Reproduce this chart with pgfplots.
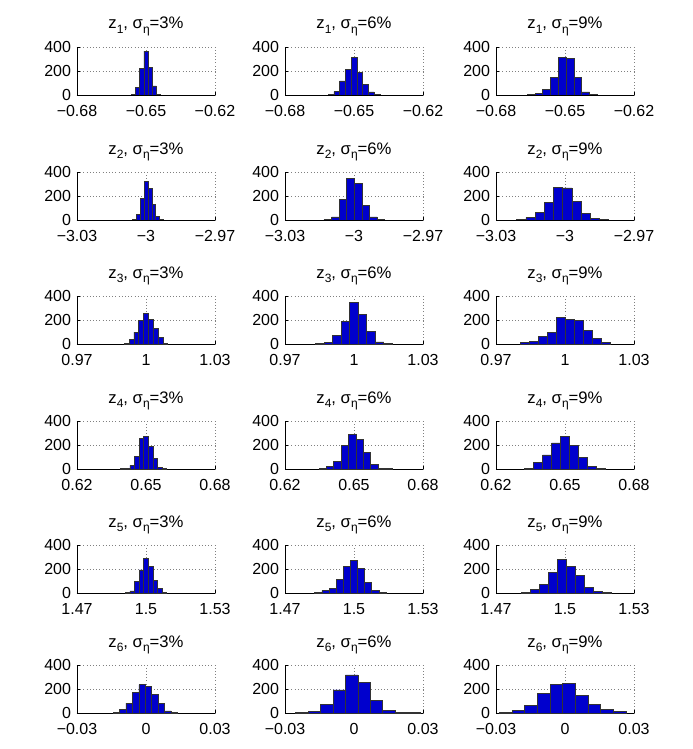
\documentclass[border=0pt]{standalone}
\usepackage{fontspec}
\setmainfont{Liberation Sans}
\usepackage{pgfplots}
\pgfplotsset{compat=1.18}
\definecolor{barblue}{RGB}{0,0,205}
\newcommand\sub[1]{\raisebox{-3.5pt}{\fontsize{9}{9}\selectfont #1}}
\pgfplotsset{
  hp/.style={
    scale only axis, width=103.5pt, height=36pt, anchor=north west,
    ymin=0, ymax=400, ytick={0,200,400}, yticklabels={0,200,400},
    scaled x ticks=false, scaled y ticks=false,
    axis lines=left, axis line style={-, black, line width=0.5pt},
    grid=major, major grid style={dotted, gray, line width=0.5pt},
    tick align=inside, major tick length=2pt, tick style={black, line width=0.4pt},
    tick label style={font=\fontsize{12}{13}\selectfont},
    xticklabel style={yshift=-4pt},
    yticklabel style={xshift=-1pt},
    title style={font=\fontsize{12.5}{14}\selectfont, at={(0.5,1)}, anchor=base, yshift=7.5pt},
    enlargelimits=false,
  },
  r1/.style={hp, xmin=-0.68, xmax=-0.62, xtick={-0.68,-0.65,-0.62}, xticklabels={−0.68,−0.65,−0.62}},
  r2/.style={hp, xmin=-3.03, xmax=-2.97, xtick={-3.03,-3,-2.97}, xticklabels={−3.03,−3,−2.97}},
  r3/.style={hp, xmin=0.97, xmax=1.03, xtick={0.97,1,1.03}, xticklabels={0.97,1,1.03}},
  r4/.style={hp, xmin=0.62, xmax=0.68, xtick={0.62,0.65,0.68}, xticklabels={0.62,0.65,0.68}},
  r5/.style={hp, xmin=1.47, xmax=1.53, xtick={1.47,1.5,1.53}, xticklabels={1.47,1.5,1.53}},
  r6/.style={hp, xmin=-0.03, xmax=0.03, xtick={-0.03,0,0.03}, xticklabels={−0.03,0,0.03}},
  hb/.style={ybar interval, fill=barblue, draw=black!80, line width=0.5pt},
}
\begin{document}
\begin{tikzpicture}
\path[use as bounding box] (0,0) rectangle (519pt,-561.75pt);

% row 1
\begin{axis}[r1, at={(57.75pt,-35.25pt)}, title={z\sub{1}, σ\sub{η}=3\%}]
\addplot[hb] coordinates {(-0.6563,5) (-0.6545,60) (-0.6527,220) (-0.6509,365) (-0.6491,230) (-0.6473,75) (-0.6455,5) (-0.6437,0)};
\end{axis}
\begin{axis}[r1, at={(213.75pt,-35.25pt)}, title={z\sub{1}, σ\sub{η}=6\%}]
\addplot[hb] coordinates {(-0.66125,3) (-0.65875,28) (-0.65625,118) (-0.65375,215) (-0.65125,315) (-0.64875,190) (-0.64625,88) (-0.64375,25) (-0.64125,4) (-0.63875,0)};
\end{axis}
\begin{axis}[r1, at={(372pt,-35.25pt)}, title={z\sub{1}, σ\sub{η}=9\%}]
\addplot[hb] coordinates {(-0.6665,2) (-0.6631,10) (-0.6597,45) (-0.6563,145) (-0.6529,315) (-0.6495,305) (-0.6461,148) (-0.6427,25) (-0.6393,5) (-0.6359,0)};
\end{axis}

% row 2
\begin{axis}[r2, at={(57.75pt,-129pt)}, title={z\sub{2}, σ\sub{η}=3\%}]
\addplot[hb] coordinates {(-3.00595,3) (-3.00425,45) (-3.00255,180) (-3.00085,320) (-2.99915,262) (-2.99745,128) (-2.99575,28) (-2.99405,3) (-2.99235,0)};
\end{axis}
\begin{axis}[r2, at={(213.75pt,-129pt)}, title={z\sub{2}, σ\sub{η}=6\%}]
\addplot[hb] coordinates {(-3.01305,3) (-3.00975,25) (-3.00645,170) (-3.00315,350) (-2.99985,303) (-2.99655,120) (-2.99325,25) (-2.98995,4) (-2.98665,0)};
\end{axis}
\begin{axis}[r2, at={(372pt,-129pt)}, title={z\sub{2}, σ\sub{η}=9\%}]
\addplot[hb] coordinates {(-3.021,5) (-3.017,20) (-3.013,60) (-3.009,150) (-3.005,275) (-3.001,268) (-2.997,155) (-2.993,55) (-2.989,15) (-2.985,2) (-2.981,0)};
\end{axis}

% row 3
\begin{axis}[r3, at={(57.75pt,-222pt)}, title={z\sub{3}, σ\sub{η}=3\%}]
\addplot[hb] coordinates {(0.99055,5) (0.99265,38) (0.99475,100) (0.99685,195) (0.99895,258) (1.00105,208) (1.00315,130) (1.00525,52) (1.00735,8) (1.00945,0)};
\end{axis}
\begin{axis}[r3, at={(213.75pt,-222pt)}, title={z\sub{3}, σ\sub{η}=6\%}]
\addplot[hb] coordinates {(0.98335,3) (0.98705,10) (0.99075,70) (0.99445,185) (0.99815,345) (1.00185,250) (1.00555,105) (1.00925,18) (1.01295,3) (1.01665,0)};
\end{axis}
\begin{axis}[r3, at={(372pt,-222pt)}, title={z\sub{3}, σ\sub{η}=9\%}]
\addplot[hb] coordinates {(0.9805,12) (0.9844,20) (0.9883,60) (0.9922,97) (0.9961,222) (1.0,208) (1.0039,200) (1.0078,111) (1.0117,50) (1.0156,15) (1.0195,0)};
\end{axis}

% row 4
\begin{axis}[r4, at={(57.75pt,-315.75pt)}, title={z\sub{4}, σ\sub{η}=3\%}]
\addplot[hb] coordinates {(0.639,3) (0.641,8) (0.643,30) (0.645,108) (0.647,258) (0.649,270) (0.651,188) (0.653,88) (0.655,15) (0.657,3) (0.659,0)};
\end{axis}
\begin{axis}[r4, at={(213.75pt,-315.75pt)}, title={z\sub{4}, σ\sub{η}=6\%}]
\addplot[hb] coordinates {(0.6348,3) (0.638,22) (0.6412,62) (0.6444,195) (0.6476,290) (0.6508,245) (0.654,137) (0.6572,38) (0.6604,6) (0.6636,3) (0.6668,0)};
\end{axis}
\begin{axis}[r4, at={(372pt,-315.75pt)}, title={z\sub{4}, σ\sub{η}=9\%}]
\addplot[hb] coordinates {(0.63245,5) (0.63635,55) (0.64025,118) (0.64415,218) (0.64805,275) (0.65195,200) (0.65585,95) (0.65975,25) (0.66365,8) (0.66755,0)};
\end{axis}

% row 5
\begin{axis}[r5, at={(57.75pt,-408.75pt)}, title={z\sub{5}, σ\sub{η}=3\%}]
\addplot[hb] coordinates {(1.491,4) (1.493,18) (1.495,100) (1.497,192) (1.499,288) (1.501,223) (1.503,108) (1.505,40) (1.507,8) (1.509,0)};
\end{axis}
\begin{axis}[r5, at={(213.75pt,-408.75pt)}, title={z\sub{5}, σ\sub{η}=6\%}]
\addplot[hb] coordinates {(1.48295,3) (1.48605,20) (1.48915,40) (1.49225,112) (1.49535,225) (1.49845,270) (1.50155,202) (1.50465,85) (1.50775,20) (1.51085,3) (1.51395,0)};
\end{axis}
\begin{axis}[r5, at={(372pt,-408.75pt)}, title={z\sub{5}, σ\sub{η}=9\%}]
\addplot[hb] coordinates {(1.481,5) (1.4849,30) (1.4888,75) (1.4927,170) (1.4966,280) (1.5005,225) (1.5044,150) (1.5083,45) (1.5122,15) (1.5161,3) (1.52,0)};
\end{axis}

% row 6
\begin{axis}[r6, at={(57.75pt,-498.75pt)}, title={z\sub{6}, σ\sub{η}=3\%}]
\addplot[hb] coordinates {(-0.0143,8) (-0.0115,28) (-0.0087,82) (-0.0059,172) (-0.0031,236) (-0.0003,222) (0.0025,155) (0.0053,82) (0.0081,18) (0.0109,5) (0.0137,0)};
\end{axis}
\begin{axis}[r6, at={(213.75pt,-498.75pt)}, title={z\sub{6}, σ\sub{η}=6\%}]
\addplot[hb] coordinates {(-0.0253,3) (-0.0199,10) (-0.0145,70) (-0.0091,192) (-0.0037,318) (0.0017,252) (0.0071,105) (0.0125,25) (0.0179,8) (0.0233,2) (0.0287,0)};
\end{axis}
\begin{axis}[r6, at={(372pt,-498.75pt)}, title={z\sub{6}, σ\sub{η}=9\%}]
\addplot[hb] coordinates {(-0.0285,5) (-0.023,22) (-0.0175,60) (-0.012,160) (-0.0065,240) (-0.001,248) (0.0045,150) (0.01,75) (0.0155,28) (0.021,10) (0.0265,0)};
\end{axis}
\end{tikzpicture}
\end{document}
